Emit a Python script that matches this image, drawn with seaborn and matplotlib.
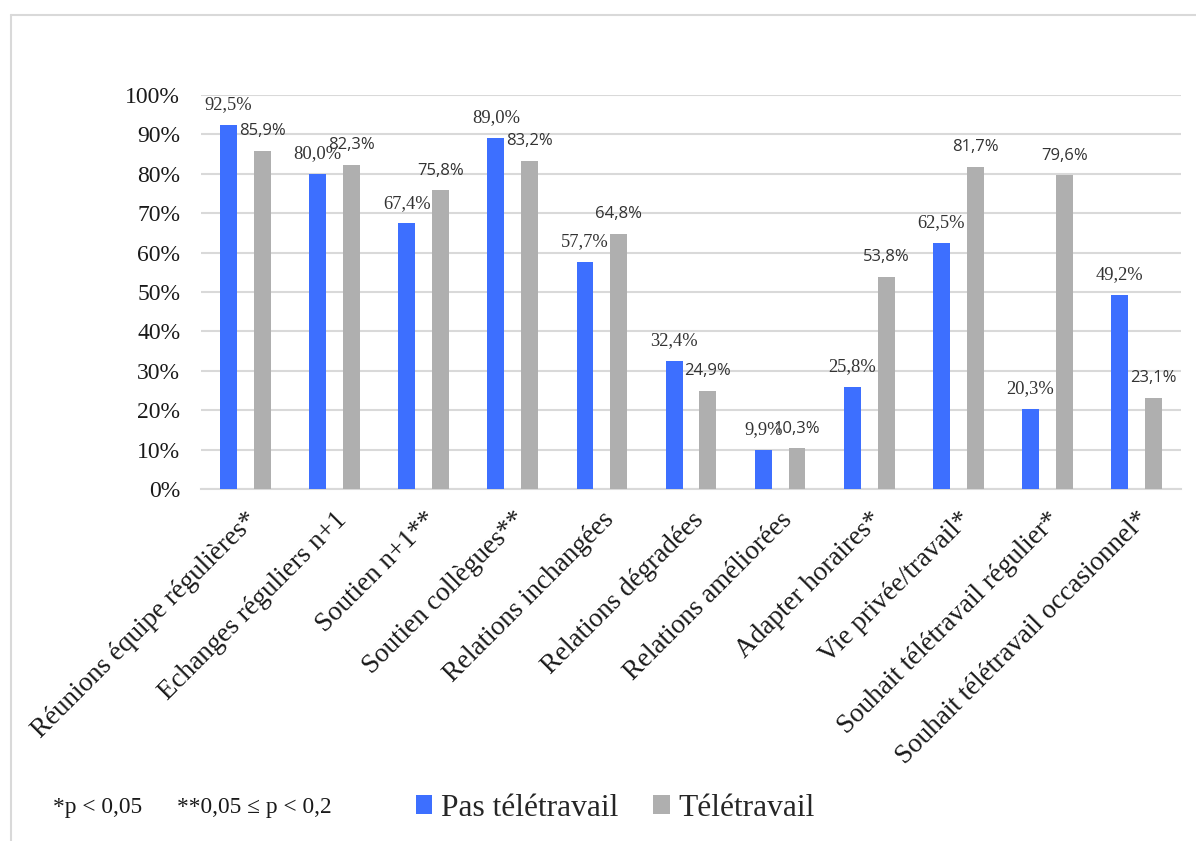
import matplotlib
matplotlib.use("Agg")
import matplotlib.pyplot as plt
from matplotlib.lines import Line2D
import seaborn as sns
import pandas as pd

categories = [
    "Réunions équipe régulières*",
    "Echanges réguliers n+1",
    "Soutien n+1**",
    "Soutien collègues**",
    "Relations inchangées",
    "Relations dégradées",
    "Relations améliorées",
    "Adapter horaires*",
    "Vie privée/travail*",
    "Souhait télétravail régulier*",
    "Souhait télétravail occasionnel*",
]
series_names = ["Pas télétravail", "Télétravail"]
pas_teletravail = [92.5, 80.0, 67.4, 89.0, 57.7, 32.4, 9.9, 25.8, 62.5, 20.3, 49.2]
teletravail = [85.9, 82.3, 75.8, 83.2, 64.8, 24.9, 10.3, 53.8, 81.7, 79.6, 23.1]
y_ticks = [0, 10, 20, 30, 40, 50, 60, 70, 80, 90, 100]
footnote_1 = "*p < 0,05"
footnote_2 = "**0,05 ≤ p < 0,2"

colors = {"Pas télétravail": "#3D6FFF", "Télétravail": "#AFAFAF"}

df = pd.DataFrame({
    "cat": categories * 2,
    "val": pas_teletravail + teletravail,
    "serie": [series_names[0]] * len(categories) + [series_names[1]] * len(categories),
})

sns.set_style("white")
plt.rcParams["font.family"] = ["Liberation Serif", "DejaVu Serif"]

W, H = 1196, 841
fig = plt.figure(figsize=(W / 100, H / 100), dpi=100)
ax = fig.add_axes([201 / W, 1 - 489 / H, 980 / W, 394 / H])

sns.barplot(data=df, x="cat", y="val", hue="serie", order=categories,
            hue_order=series_names, palette=colors, saturation=1,
            width=0.76, gap=0.5, dodge=True, ax=ax, errorbar=None,
            linewidth=0, zorder=3)

ax.set_xlim(-0.5, len(categories) - 0.5)
ax.set_ylim(0, 100)
ax.set_yticks(y_ticks)
ax.set_yticklabels([f"{t}%" for t in y_ticks], fontsize=17, color="#1a1a1a")
ax.yaxis.grid(True, color="#D9D9D9", linewidth=1.5, zorder=0)
ax.set_axisbelow(True)
ax.xaxis.grid(False)
for s in ["left", "right", "top"]:
    ax.spines[s].set_visible(False)
ax.spines["bottom"].set_color("#D9D9D9")
ax.spines["bottom"].set_linewidth(1.5)
ax.tick_params(axis="y", length=0, pad=15)
ax.tick_params(axis="x", length=0, pad=13)
ax.set_xticks(range(len(categories)))
ax.set_xticklabels(categories, rotation=45, ha="right", va="top",
                   rotation_mode="anchor", fontsize=19.5, color="#1a1a1a")
ax.set_xlabel("")
ax.set_ylabel("")

# value labels
fmt = lambda v: f"{v:.1f}".replace(".", ",") + "%"
cont_blue, cont_grey = ax.containers[0], ax.containers[1]
ax.bar_label(cont_blue, labels=[fmt(v) for v in pas_teletravail], padding=8.5,
             fontsize=13.3, color="#333333",
             fontfamily=["Liberation Serif", "DejaVu Serif"])
ax.bar_label(cont_grey, labels=[fmt(v) for v in teletravail], padding=8.5,
             fontsize=12, color="#333333",
             fontfamily=["Open Sans", "DejaVu Sans"])

# legend
handles, labels = ax.get_legend_handles_labels()
if ax.get_legend() is not None:
    ax.get_legend().remove()
fig.legend(handles, labels, loc="center left",
           bbox_to_anchor=(416 / W, 1 - 808 / H), ncol=2, frameon=False,
           fontsize=22.7, handlelength=0.52, handleheight=0.52,
           handletextpad=0.28, columnspacing=1.1, borderpad=0,
           borderaxespad=0)

fig.text(53 / W, 1 - 808 / H, footnote_1, fontsize=16.8, va="center",
         ha="left", color="#1a1a1a")
fig.text(177 / W, 1 - 808 / H, footnote_2, fontsize=16.8, va="center",
         ha="left", color="#1a1a1a")

# chart-area border (left and top edges visible)
fig.add_artist(Line2D([11 / W, 11 / W], [0, 1 - 15 / H], transform=fig.transFigure,
                      color="#D9D9D9", linewidth=1.5))
fig.add_artist(Line2D([11 / W, 1], [1 - 15 / H, 1 - 15 / H], transform=fig.transFigure,
                      color="#D9D9D9", linewidth=1.5))

fig.savefig("out.png", dpi=100, facecolor="white")
